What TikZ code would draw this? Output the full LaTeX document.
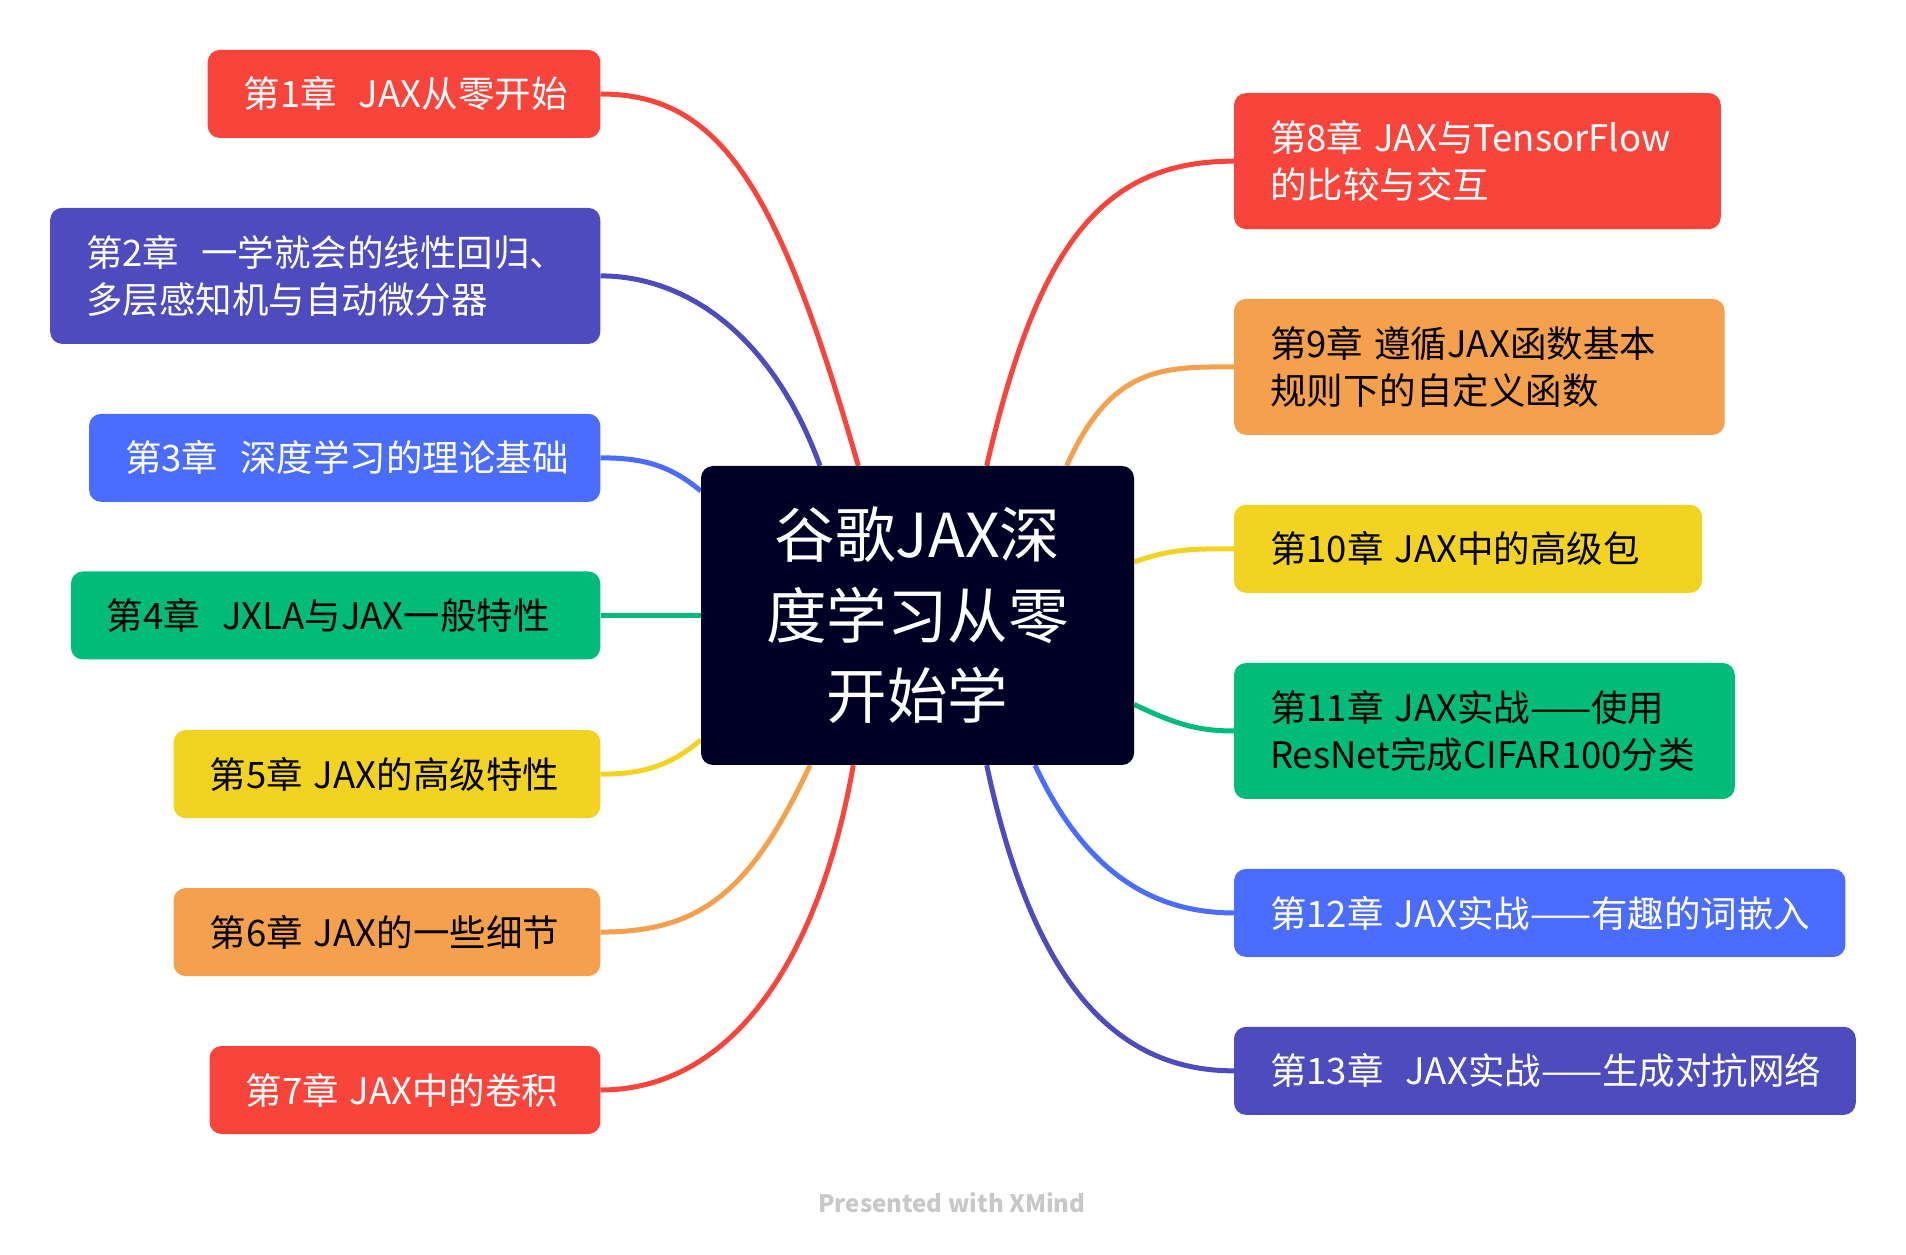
\documentclass[tikz,border=0pt]{standalone}
\usepackage{fontspec}
\setmainfont{Noto Sans CJK SC}
\usetikzlibrary{backgrounds}
\definecolor{cred}{HTML}{F9443C}
\definecolor{cpurple}{HTML}{4D4BBE}
\definecolor{cblue}{HTML}{4A6CFF}
\definecolor{cgreen}{HTML}{00BB7A}
\definecolor{cyellow}{HTML}{F2D321}
\definecolor{corange}{HTML}{F5A04C}
\definecolor{cnavy}{HTML}{000026}
\definecolor{cgray}{HTML}{C8C8C8}
\newcommand{\sgap}{\hspace{0.3em}}
\newcommand{\dgap}{\hspace{0.6em}}
\begin{document}
\begin{tikzpicture}[x=1pt,y=1pt,
  chap/.style={rectangle, rounded corners=12pt, inner xsep=36pt, inner ysep=0pt, align=left, font=\fontsize{36.5}{47}\selectfont},
  one/.style={minimum height=88pt},
  two/.style={minimum height=136pt},
  link/.style={line width=5pt},
]
\useasboundingbox (0,0) rectangle (1906,1254);

\node[rectangle, rounded corners=12pt, fill=cnavy, text=white, minimum width=433pt, minimum height=299pt, inner sep=0pt, align=center, font=\fontsize{60.5}{80.5}\selectfont] (c) at (917.5,638.5) {谷歌JAX深\\度学习从零\\开始学};

% left
\node[chap, one, fill=cred, text=white, anchor=east, text width=320.6pt] (ch1) at (600.5,1160) {\mbox{第1章\dgap JAX从零开始}};
\node[chap, two, fill=cpurple, text=white, anchor=east, text width=478.1pt] (ch2) at (600.5,978.1) {\mbox{第2章\dgap 一学就会的线性回归、}\\\mbox{多层感知机与自动微分器}};
\node[chap, one, fill=cblue, text=white, anchor=east, text width=439.2pt] (ch3) at (600.5,796.15) {\mbox{第3章\dgap 深度学习的理论基础}};
\node[chap, one, fill=cgreen, text=black, anchor=east, text width=457.4pt] (ch4) at (600.5,638.5) {\mbox{第4章\dgap JXLA与JAX一般特性}};
\node[chap, one, fill=cyellow, text=black, anchor=east, text width=354.7pt] (ch5) at (600.5,479.85) {\mbox{第5章\sgap JAX的高级特性}};
\node[chap, one, fill=corange, text=black, anchor=east, text width=354.7pt] (ch6) at (600.5,321.9) {\mbox{第6章\sgap JAX的一些细节}};
\node[chap, one, fill=cred, text=white, anchor=east, text width=318.8pt] (ch7) at (600.5,164) {\mbox{第7章\sgap JAX中的卷积}};

% right
\node[chap, two, fill=cred, text=white, anchor=west, text width=414.8pt] (ch8) at (1233.8,1092.85) {\mbox{第8章\sgap JAX与TensorFlow}\\\mbox{的比较与交互}};
\node[chap, two, fill=corange, text=black, anchor=west, text width=418.5pt] (ch9) at (1233.8,887.1) {\mbox{第9章\sgap 遵循JAX函数基本}\\\mbox{规则下的自定义函数}};
\node[chap, one, fill=cyellow, text=black, anchor=west, text width=396pt] (ch10) at (1233.8,705.2) {\mbox{第10章\sgap JAX中的高级包}};
\node[chap, two, fill=cgreen, text=black, anchor=west, text width=428.8pt] (ch11) at (1233.8,523) {\mbox{第11章\sgap JAX实战——使用}\\\mbox{ResNet完成CIFAR100分类}};
\node[chap, one, fill=cblue, text=white, anchor=west, text width=539.4pt] (ch12) at (1233.8,341.05) {\mbox{第12章\sgap JAX实战——有趣的词嵌入}};
\node[chap, one, fill=cpurple, text=white, anchor=west, text width=549.8pt] (ch13) at (1233.8,183.15) {\mbox{第13章\dgap JAX实战——生成对抗网络}};

\node[text=cgray, font=\fontsize{24}{29}\selectfont\bfseries] (pw) at (952,51) {Presented with XMind};

\begin{scope}[on background layer]
\draw[link, cred] ([xshift=-59.2pt]c.north) to[out=106,in=0,out distance=290pt,in distance=120pt] (ch1.east);
\draw[link, cpurple] ([xshift=-97.5pt]c.north) to[out=110,in=0,out distance=140pt,in distance=85pt] (ch2.east);
\draw[link, cblue] ([yshift=124.5pt]c.west) to[out=140,in=0] (ch3.east);
\draw[link, cgreen] (c.west) -- (ch4.east);
\draw[link, cyellow] ([yshift=-124.5pt]c.west) to[out=220,in=0] (ch5.east);
\draw[link, corange] ([xshift=-107.5pt]c.south) to[out=245,in=0,out distance=140pt,in distance=100pt] (ch6.east);
\draw[link, cred] ([xshift=-64.2pt]c.south) to[out=260,in=0,out distance=200pt,in distance=130pt] (ch7.east);
\draw[link, cred] ([xshift=69.2pt]c.north) to[out=77,in=180,out distance=230pt,in distance=130pt] (ch8.west);
\draw[link, corange] ([xshift=149.2pt]c.north) to[out=66,in=180,out distance=110pt,in distance=70pt] (ch9.west);
\draw[link, cyellow] ([yshift=53.5pt]c.east) to[out=20,in=180] (ch10.west);
\draw[link, cgreen] ([yshift=-89pt]c.east) to[out=-25,in=180] (ch11.west);
\draw[link, cblue] ([xshift=117.5pt]c.south) to[out=-65,in=180,out distance=125pt,in distance=75pt] (ch12.west);
\draw[link, cpurple] ([xshift=69.2pt]c.south) to[out=-78,in=180,out distance=220pt,in distance=120pt] (ch13.west);
\end{scope}
\end{tikzpicture}
\end{document}
